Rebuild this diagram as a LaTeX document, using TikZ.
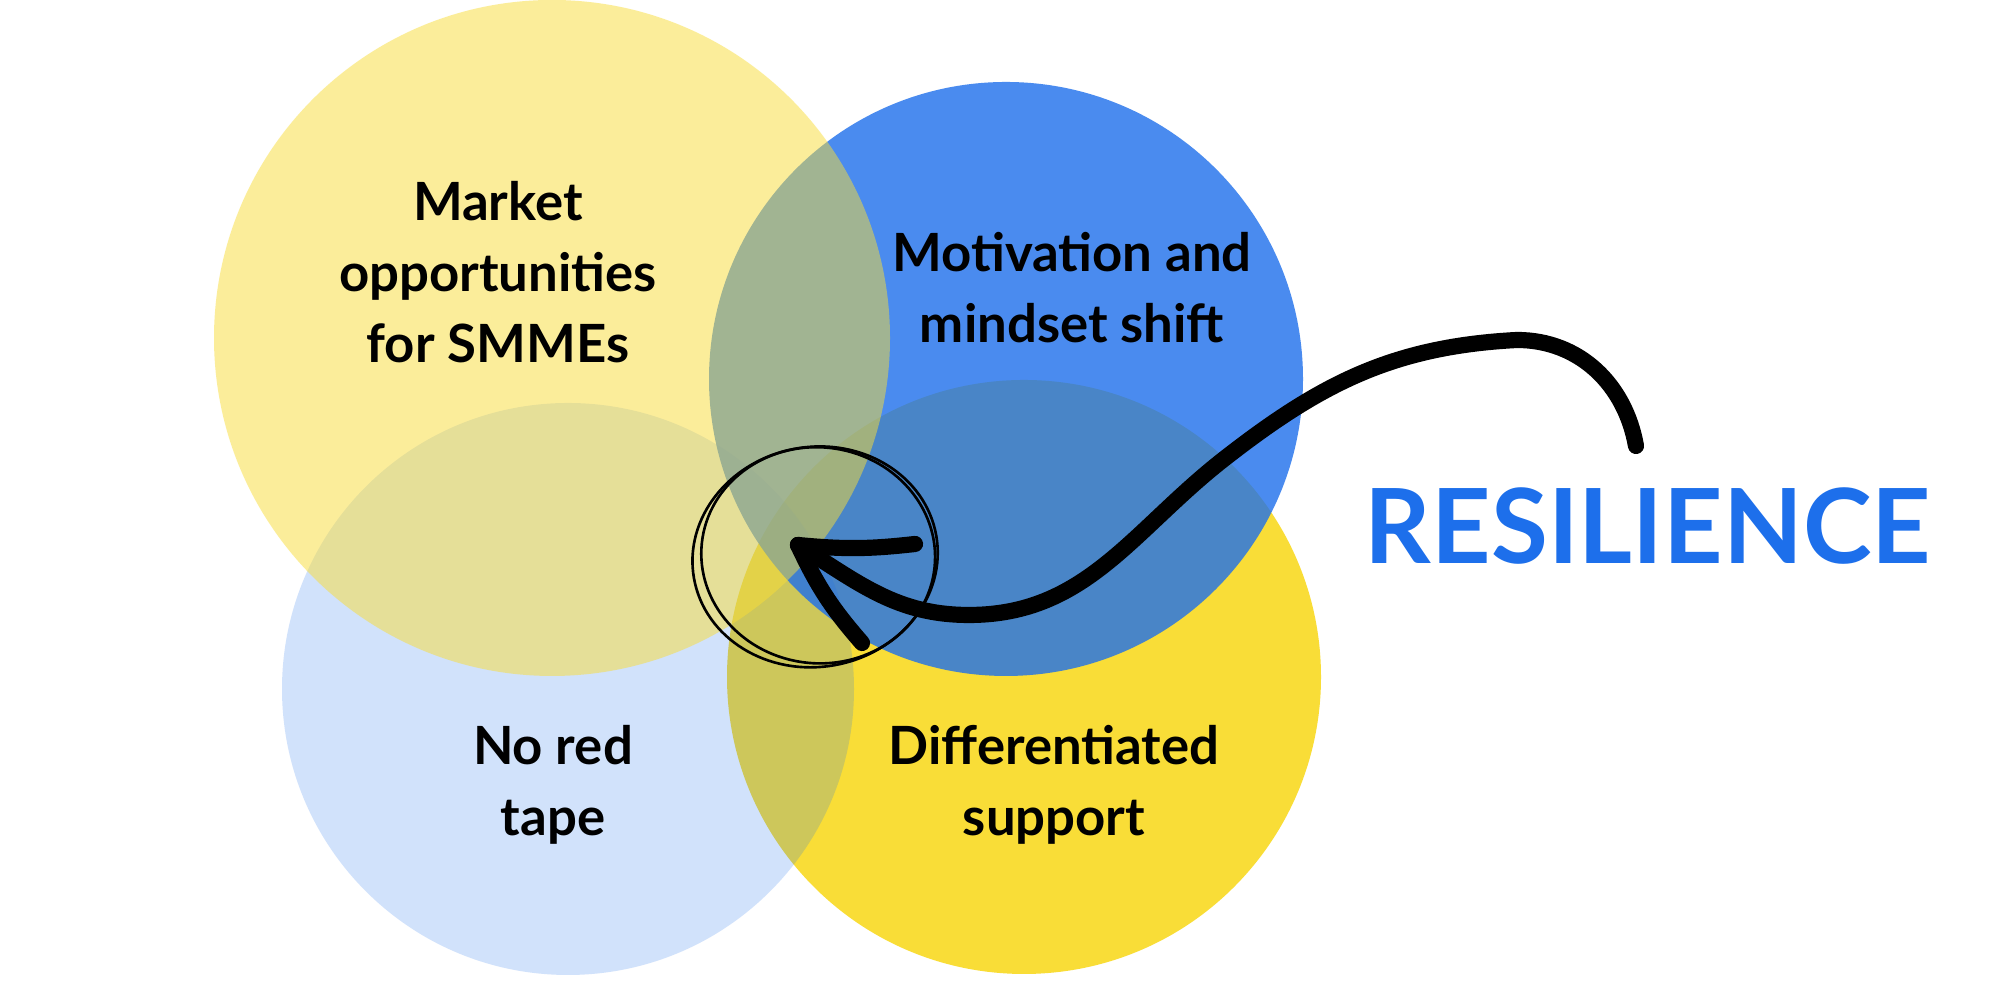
\documentclass[tikz,border=0pt]{standalone}
\usepackage{fontspec}
\setmainfont{Lato}
\definecolor{sunyellow}{RGB}{249,221,55}
\definecolor{resblue}{RGB}{29,111,235}

\begin{document}
\begin{tikzpicture}
  \tikzset{ lbl/.style={font=\fontsize{15}{20.2}\selectfont\bfseries,align=center},
    stroke/.style={line width=4.6pt,line cap=round,line join=round},
    ring/.style={line width=0.75pt},
  }
  \fill[white] (0,0) rectangle (20,10);
  \useasboundingbox (0,0) rectangle (20,10);

  % the four circles, back to front
  \fill[sunyellow] (10.24,3.23) circle (2.97);
  \fill[resblue,fill opacity=0.8] (10.06,6.21) circle (2.97);
  \fill[resblue,fill opacity=0.2] (5.68,3.11) circle (2.86);
  \fill[sunyellow,fill opacity=0.5] (5.52,6.62) circle (3.38);

  % the labels
  \node[lbl] (market) at (4.98,7.28) {Market\\opportunities\\for SMMEs};
  \node[lbl] (motiv)  at (10.72,7.12) {Motivation and\\mindset shift};
  \node[lbl] (tape)   at (5.53,2.15) {No red\\tape};
  \node[lbl] (diff)   at (10.54,2.15) {Differentiated\\support};
  \node[font=\fontsize{29.5}{30}\selectfont\bfseries,text=resblue] (res) at (16.48,4.74) {RESILIENCE};

  % the hand drawn rings in the middle
  \coordinate (mid) at (8.15,4.43);
  \draw[ring,rotate around={10:(mid)}] (mid) ellipse (1.23 and 1.10);
  \draw[ring,rotate around={-6:(mid)}] ([shift={(0.03,0.02)}]mid) ellipse (1.17 and 1.08);

  % the arrow
  \coordinate (tail)  at (16.36,5.54);
  \coordinate (crest) at (15.17,6.60);
  \coordinate (swing) at (12.24,5.41);
  \coordinate (dip)   at (9.69,3.85);
  \coordinate (tip)   at (7.98,4.55);
  \coordinate (barbR) at (9.15,4.56);
  \coordinate (barbD) at (8.62,3.57);
  \draw[stroke] (tail) to[out=100,in=0] (crest) to[out=183,in=38] (swing)
    to[out=218,in=0] (dip) to[out=180,in=-32] (tip);
  \draw[stroke] (tip) to[bend right=6] (barbR);
  \draw[stroke] (tip) to[bend right=8] (barbD);
\end{tikzpicture}
\end{document}
